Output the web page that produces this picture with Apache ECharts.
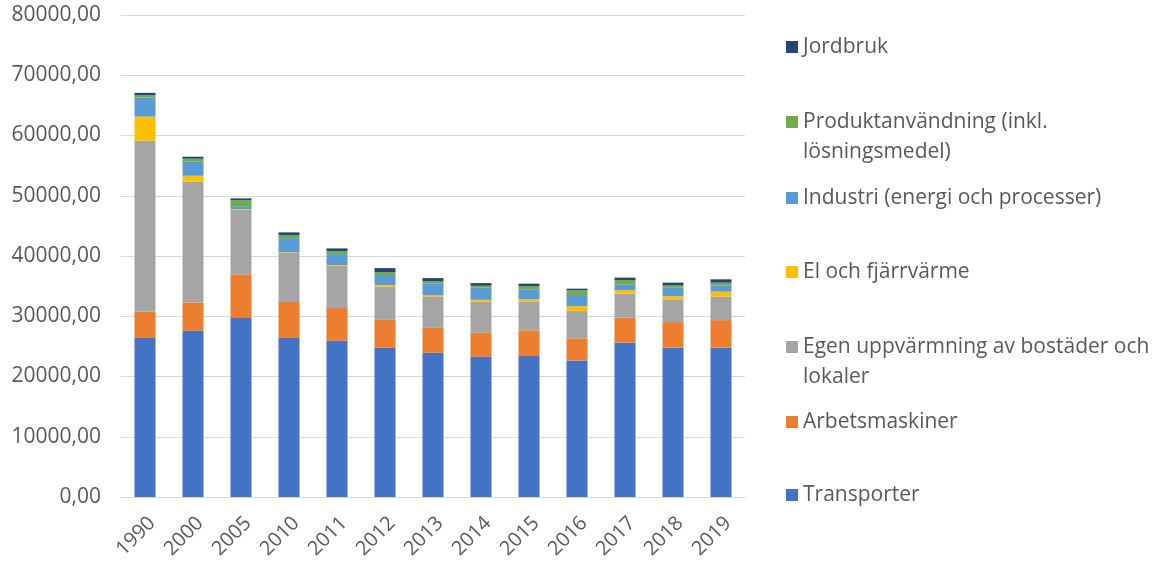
<!DOCTYPE html>
<html>
<head>
<meta charset="utf-8">
<script src="https://cdn.jsdelivr.net/npm/echarts@6/dist/echarts.min.js"></script>
<style>
  html, body { margin: 0; padding: 0; background: #fff; }
  #chart { width: 1152px; height: 562px; }
</style>
</head>
<body>
<div id="chart"></div>
<script>
// Data
var years = ['1990', '2000', '2005', '2010', '2011', '2012', '2013', '2014', '2015', '2016', '2017', '2018', '2019'];
var transporter = [26400, 27570, 29730, 26400, 25910, 24750, 23920, 23260, 23390, 22670, 25610, 24780, 24780];
var arbetsmaskiner = [4330, 4650, 7140, 5980, 5480, 4650, 4150, 3990, 4270, 3650, 4150, 4250, 4580];
var egenUppvarmning = [28400, 20100, 10800, 8140, 6980, 5480, 5150, 5150, 4820, 4540, 3990, 3770, 3890];
var elFjarrvarme = [3990, 1000, 100, 120, 120, 300, 250, 330, 330, 830, 600, 550, 830];
var industri = [3160, 2330, 500, 2330, 1830, 1660, 2000, 2000, 1660, 1830, 950, 1380, 1050];
var produktanvandning = [400, 500, 1000, 500, 500, 500, 330, 330, 550, 780, 710, 380, 450];
var jordbruk = [400, 330, 300, 450, 440, 650, 530, 440, 390, 280, 400, 470, 550];
var yTicks = [0, 10000, 20000, 30000, 40000, 50000, 60000, 70000, 80000];

var seriesDefs = [
  { name: 'Transporter', data: transporter, color: '#4472C4' },
  { name: 'Arbetsmaskiner', data: arbetsmaskiner, color: '#ED7D31' },
  { name: 'Egen uppvärmning av bostäder och lokaler', data: egenUppvarmning, color: '#A5A5A5' },
  { name: 'El och fjärrvärme', data: elFjarrvarme, color: '#FFC000' },
  { name: 'Industri (energi och processer)', data: industri, color: '#5B9BD5' },
  { name: 'Produktanvändning (inkl. lösningsmedel)', data: produktanvandning, color: '#70AD47' },
  { name: 'Jordbruk', data: jordbruk, color: '#264478' }
];

// legend: first line shown by legend, wrapped part drawn as text below
var legendRows = [
  { name: 'Jordbruk', first: 'Jordbruk', rest: '', y: 47 },
  { name: 'Produktanvändning (inkl. lösningsmedel)', first: 'Produktanvändning (inkl.', rest: 'lösningsmedel)', y: 122 },
  { name: 'Industri (energi och processer)', first: 'Industri (energi och processer)', rest: '', y: 198 },
  { name: 'El och fjärrvärme', first: 'El och fjärrvärme', rest: '', y: 272 },
  { name: 'Egen uppvärmning av bostäder och lokaler', first: 'Egen uppvärmning av bostäder och', rest: 'lokaler', y: 347 },
  { name: 'Arbetsmaskiner', first: 'Arbetsmaskiner', rest: '', y: 422 },
  { name: 'Transporter', first: 'Transporter', rest: '', y: 495 }
];

var FONT = 'Open Sans';
var TEXT = '#595959';
var FS = 21;

var chart = echarts.init(document.getElementById('chart'), null, { renderer: 'canvas' });

var legends = legendRows.map(function (row) {
  return {
    orient: 'vertical',
    left: 786,
    top: row.y - 12,
    padding: 0,
    itemWidth: 12,
    itemHeight: 12,
    icon: 'rect',
    selectedMode: false,
    data: [row.name],
    formatter: function () { return row.first; },
    textStyle: { color: TEXT, fontFamily: FONT, fontSize: FS, lineHeight: 24 }
  };
});

var extraText = legendRows.filter(function (r) { return r.rest; }).map(function (row) {
  return {
    type: 'text',
    x: 803,
    y: row.y + 30,
    style: { text: row.rest, fill: TEXT, font: FS + 'px "' + FONT + '"', verticalAlign: 'middle' }
  };
});

var option = {
  animation: false,
  backgroundColor: '#fff',
  grid: { left: 121, right: 407, top: 15, bottom: 65 },
  legend: legends,
  graphic: extraText,
  xAxis: {
    type: 'category',
    data: years,
    axisLine: { lineStyle: { color: '#d9d9d9' } },
    axisTick: { show: false },
    axisLabel: {
      color: TEXT, fontFamily: FONT, fontSize: FS - 1, rotate: 45,
      margin: 16, interval: 0, verticalAlign: 'top'
    }
  },
  yAxis: {
    type: 'value',
    min: yTicks[0],
    max: yTicks[yTicks.length - 1],
    interval: yTicks[1] - yTicks[0],
    axisLine: { show: false },
    axisTick: { show: false },
    splitLine: { lineStyle: { color: '#d9d9d9' } },
    axisLabel: {
      color: TEXT, fontFamily: FONT, fontSize: FS, margin: 20,
      formatter: function (v) { return v.toFixed(2).replace('.', ','); }
    }
  },
  series: seriesDefs.map(function (s) {
    return {
      name: s.name,
      type: 'bar',
      stack: 'total',
      barWidth: 21,
      data: s.data,
      itemStyle: { color: s.color }
    };
  })
};

chart.setOption(option);
</script>
</body>
</html>
